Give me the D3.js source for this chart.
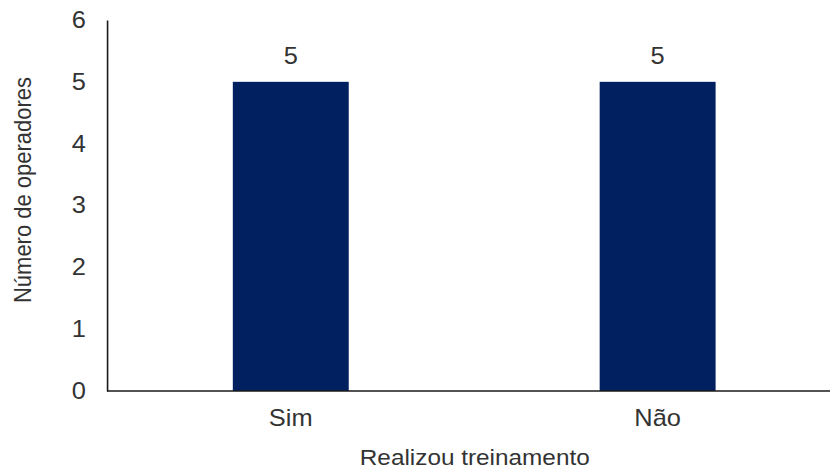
<!DOCTYPE html>
<html>
<head>
<meta charset="utf-8">
<script src="https://cdn.jsdelivr.net/npm/d3@7"></script>
<style>
  html, body { margin: 0; padding: 0; background: #fff; }
  svg { display: block; }
  text { font-family: "Liberation Sans", Arial, sans-serif; fill: #333333; }
</style>
</head>
<body>
<svg id="chart" width="830" height="469" viewBox="0 0 750 469" preserveAspectRatio="none"></svg>
<script>
const categories = ["Sim", "Não"];
const values = [5, 5];
const yTicks = [0, 1, 2, 3, 4, 5, 6];
const xTitle = "Realizou treinamento";
const yTitle = "Número de operadores";

const svg = d3.select("#chart");

const x = d3.scaleBand()
  .domain(categories)
  .range([97, 760])
  .paddingInner(0.684)
  .paddingOuter(0.342);

const y = d3.scaleLinear()
  .domain([0, 6])
  .range([391, 20]);

// bars
svg.append("g").selectAll("rect")
  .data(categories)
  .join("rect")
  .attr("x", d => x(d))
  .attr("width", x.bandwidth())
  .attr("y", (d, i) => y(values[i]))
  .attr("height", (d, i) => y(0) - y(values[i]))
  .attr("fill", "#002060");

// data labels
svg.append("g").selectAll("text")
  .data(categories)
  .join("text")
  .attr("x", d => x(d) + x.bandwidth() / 2)
  .attr("y", (d, i) => y(values[i]) - 18)
  .attr("text-anchor", "middle")
  .style("font-size", "23px")
  .text((d, i) => values[i]);

// y axis
const yAxis = svg.append("g")
  .attr("transform", "translate(96.7,0)")
  .call(d3.axisLeft(y).tickValues(yTicks).tickSize(0).tickPadding(19).tickFormat(d3.format("d")));
yAxis.select(".domain").attr("stroke", "#1a1a1a").attr("stroke-width", 1.6).attr("vector-effect", "non-scaling-stroke");
yAxis.selectAll("text").style("font-size", "23px").attr("fill", "#333333").style("font-family", "'Liberation Sans', Arial, sans-serif");

// x axis
const xAxis = svg.append("g")
  .attr("transform", `translate(0,${y(0)})`)
  .call(d3.axisBottom(x).tickSize(0).tickPadding(19));
xAxis.select(".domain").attr("d", `M96.7,0H750`).attr("stroke", "#1a1a1a").attr("stroke-width", 1.6).attr("vector-effect", "non-scaling-stroke");
xAxis.selectAll("text").style("font-size", "23px").attr("fill", "#333333").style("font-family", "'Liberation Sans', Arial, sans-serif");

// axis titles
svg.append("text")
  .attr("x", 429)
  .attr("y", 465)
  .attr("text-anchor", "middle")
  .style("font-size", "22px")
  .text(xTitle);

svg.append("text")
  .attr("transform", "translate(28,190) rotate(-90)")
  .attr("text-anchor", "middle")
  .style("font-size", "22px")
  .text(yTitle);
</script>
</body>
</html>
